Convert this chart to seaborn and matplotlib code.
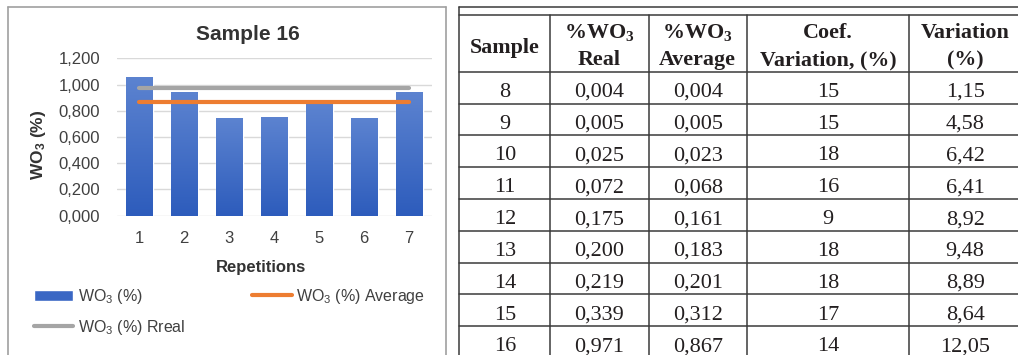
import numpy as np
import pandas as pd
import seaborn as sns
import matplotlib
matplotlib.use("Agg")
import matplotlib.pyplot as plt
from matplotlib.colors import LinearSegmentedColormap
from matplotlib.lines import Line2D
from matplotlib.ticker import FuncFormatter, MultipleLocator

# ---- Sample 16: WO3 content of each repetition ----
repetitions = ["1", "2", "3", "4", "5", "6", "7"]
wo3_values = [1.058, 0.943, 0.745, 0.752, 0.855, 0.745, 0.943]

# ---- Summary table ----
samples = [8, 9, 10, 11, 12, 13, 14, 15, 16]
wo3_real = [0.004, 0.005, 0.025, 0.072, 0.175, 0.200, 0.219, 0.339, 0.971]
wo3_average = [0.004, 0.005, 0.023, 0.068, 0.161, 0.183, 0.201, 0.312, 0.867]
coef_variation = [15, 15, 18, 16, 9, 18, 18, 17, 14]
variation = [1.15, 4.58, 6.42, 6.41, 8.92, 9.48, 8.89, 8.64, 12.05]
table_headers = [
    ["Sample"],
    ["%WO$_\\mathbf{3}$", "Real"],
    ["%WO$_\\mathbf{3}$", "Average"],
    ["Coef.", "Variation, (%)"],
    ["Variation", "(%)"],
]

# reference lines for sample 16 come from its table row
real_16 = wo3_real[samples.index(16)]
avg_16 = wo3_average[samples.index(16)]

sns.set_theme(style="white")
plt.rcParams["font.family"] = ["Liberation Sans", "DejaVu Sans"]
plt.rcParams.update({
    "mathtext.fontset": "custom",
    "mathtext.rm": "Liberation Serif",
    "mathtext.bf": "Liberation Serif:bold",
    "mathtext.sf": "Liberation Sans",
    "mathtext.tt": "Liberation Sans:bold",
    "mathtext.it": "Liberation Sans:italic",
})

W, H = 1018, 355
fig = plt.figure(figsize=(W / 100, H / 100), dpi=100)
fig.patch.set_facecolor("white")


def fx(px):
    return px / W


def fy(py):
    return 1 - py / H


TXT = "#404040"
BAR = "#3A67C4"
ORANGE = "#ED7D31"
GRAY = "#A5A5A5"

# ---------------- chart ----------------
ax = fig.add_axes([fx(116.7), fy(215.7), fx(431.7) - fx(116.7), fy(58.3) - fy(215.7)])
df = pd.DataFrame({"Repetition": repetitions, "WO3": wo3_values})
sns.barplot(data=df, x="Repetition", y="WO3", color=BAR, saturation=1, width=0.6,
            ax=ax, label="WO$_\\mathsf{3}$ (%)")

lines_df = pd.DataFrame({
    "Repetition": repetitions,
    "Average": [avg_16] * len(repetitions),
    "Real": [real_16] * len(repetitions),
})
sns.lineplot(data=lines_df, x="Repetition", y="Real", color=GRAY, lw=3.0, sort=False,
             ax=ax, label="WO$_\\mathsf{3}$ (%) Rreal", solid_capstyle="round", zorder=4)
sns.lineplot(data=lines_df, x="Repetition", y="Average", color=ORANGE, lw=3.0, sort=False,
             ax=ax, label="WO$_\\mathsf{3}$ (%) Average", solid_capstyle="round", zorder=4)

# vertical shading on every bar
cmap = LinearSegmentedColormap.from_list("barshade", ["#2D5CBC", "#5C83D0"])
grad = np.linspace(0, 1, 256).reshape(-1, 1)
for bar in ax.containers[0]:
    x0, y0 = bar.get_x(), bar.get_y()
    w, h = bar.get_width(), bar.get_height()
    im = ax.imshow(grad, extent=[x0, x0 + w, y0, y0 + h], origin="lower", cmap=cmap,
                   aspect="auto", zorder=bar.get_zorder() + 0.01, interpolation="bilinear")
    im.set_clip_path(bar)

ax.set_xlim(-0.5, len(repetitions) - 0.5)
ax.set_ylim(0, 1.2)
ax.yaxis.set_major_locator(MultipleLocator(0.2))
ax.yaxis.set_major_formatter(FuncFormatter(lambda v, _: f"{v:.3f}".replace(".", ",")))
ax.set_axisbelow(True)
ax.yaxis.grid(True, color="#D9D9D9", lw=1)
ax.xaxis.grid(False)
for s in ax.spines.values():
    s.set_visible(False)
ax.set_facecolor("none")
ax.tick_params(axis="y", length=0, pad=12, labelsize=12, labelcolor=TXT)
ax.tick_params(axis="x", length=0, pad=11, labelsize=12, labelcolor=TXT)

ax.set_xlabel("Repetitions", fontsize=12, fontweight="bold", color="#333333", va="center")
ax.xaxis.set_label_coords((261 - 116.7) / 315, (215.7 - 267.5) / 157.4)
ax.set_ylabel("WO$_\\mathtt{3}$ (%)", fontsize=12.5, fontweight="bold", color="#333333",
              va="center", ha="center")
ax.yaxis.set_label_coords((38 - 116.7) / 315, (215.7 - 145) / 157.4)

fig.text(fx(248), fy(35), "Sample 16", ha="center", va="center", fontsize=15,
         fontweight="bold", color="#333333")

handles, labels = ax.get_legend_handles_labels()
lookup = dict(zip(labels, handles))
order = ["WO$_\\mathsf{3}$ (%)", "WO$_\\mathsf{3}$ (%) Rreal", "WO$_\\mathsf{3}$ (%) Average"]
if ax.legend_:
    ax.legend_.remove()
fig.legend([lookup[k] for k in order], order, loc="upper left",
           bbox_to_anchor=(fx(34), fy(287)), ncol=2, frameon=False, borderpad=0,
           borderaxespad=0, fontsize=11.5, labelcolor=TXT, handlelength=2.45,
           handletextpad=0.3, columnspacing=4.2, labelspacing=0.75)

# chart frame
frame_kw = dict(color="#A0A0A0", lw=1.2)
fig.add_artist(Line2D([fx(8), fx(8)], [fy(355), fy(7)], **frame_kw))
fig.add_artist(Line2D([fx(8), fx(446)], [fy(7), fy(7)], **frame_kw))
fig.add_artist(Line2D([fx(446), fx(446)], [fy(7), fy(355)], **frame_kw))

# ---------------- table ----------------
tab = fig.add_axes([0, 0, 1, 1], zorder=-1)
tab.set_xlim(0, W)
tab.set_ylim(H, 0)
tab.axis("off")

col_edges = [459.5, 550, 648.7, 746.7, 909.3, 1021]
head_top, head_bottom, row_h = 15.3, 71.7, 31.8
line_kw = dict(color="#3a3a3a", lw=1.1)

tab.plot([col_edges[0], W], [7, 7], **line_kw)
tab.plot([col_edges[0], W], [head_top, head_top], **line_kw)
tab.plot([col_edges[0], col_edges[0]], [7, H], **line_kw)
for xe in col_edges[1:-1]:
    tab.plot([xe, xe], [head_top, H], **line_kw)
for i in range(len(samples)):
    yl = head_bottom + i * row_h
    tab.plot([col_edges[0], W], [yl, yl], **line_kw)

centers = [(a + b) / 2 for a, b in zip(col_edges[:-1], col_edges[1:])]
serif = ["Liberation Serif", "DejaVu Serif"]
TCOL = "#231F20"

for cx, lines in zip(centers, table_headers):
    ys = [53.5] if len(lines) == 1 else [38, 65]
    for yv, s in zip(ys, lines):
        tab.text(cx, yv, s, ha="center", va="baseline", fontsize=15.8, fontweight="bold",
                 family=serif, color=TCOL)


def comma(v, d):
    return f"{v:.{d}f}".replace(".", ",")


for i, row in enumerate(zip(samples, wo3_real, wo3_average, coef_variation, variation)):
    cells = [str(row[0]), comma(row[1], 3), comma(row[2], 3), str(row[3]), comma(row[4], 2)]
    yc = head_bottom + (i + 0.5) * row_h + 9.3
    for cx, s in zip(centers, cells):
        tab.text(cx, yc, s, ha="center", va="baseline", fontsize=16, family=serif, color=TCOL)

fig.savefig("out.png", dpi=100, facecolor="white")
